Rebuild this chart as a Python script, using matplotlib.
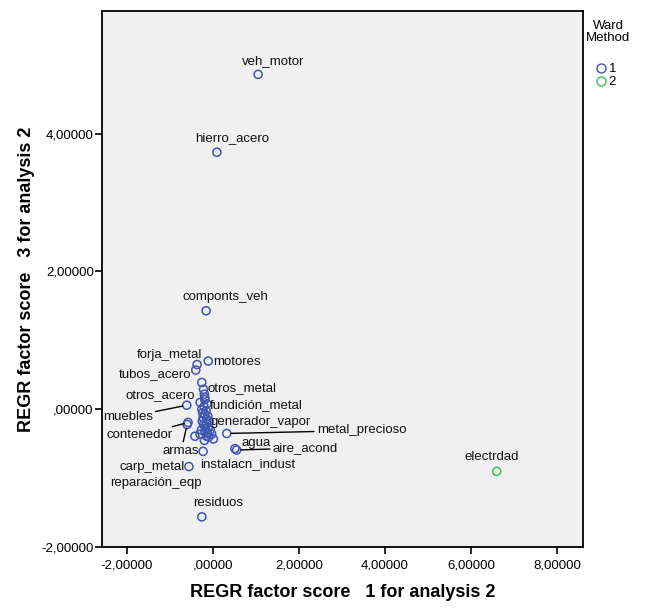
import numpy as np
import matplotlib.pyplot as plt
from matplotlib.ticker import FuncFormatter, FixedLocator
from matplotlib.lines import Line2D

plt.rcParams['font.family'] = ['Liberation Sans', 'DejaVu Sans']

### Factor scores per sector ###

sectors = ['veh_motor', 'hierro_acero', 'componts_veh', 'electrdad', 'residuos',
           'forja_metal', 'motores', 'tubos_acero', 'otros_metal', 'fundición_metal',
           'otros_acero', 'muebles', 'contenedor', 'armas', 'instalacn_indust',
           'carp_metal', 'reparación_eqp', 'generador_vapor', 'metal_precioso',
           'agua', 'aire_acond']
score1 = [1.05, 0.09, -0.16, 6.60, -0.26,
          -0.37, -0.11, -0.40, -0.26, -0.19,
          -0.30, -0.61, -0.58, -0.60, -0.23,
          -0.56, -0.20, -0.15, 0.32,
          0.51, 0.55]
score3 = [4.86, 3.73, 1.43, -0.90, -1.56,
          0.65, 0.70, 0.57, 0.39, 0.14,
          0.10, 0.06, -0.19, -0.22, -0.61,
          -0.83, -0.45, -0.20, -0.35,
          -0.57, -0.59]
ward = [1, 1, 1, 2, 1,
        1, 1, 1, 1, 1,
        1, 1, 1, 1, 1,
        1, 1, 1, 1,
        1, 1]

# unlabelled sectors packed in the middle of cluster 1
extra1 = [-0.22, -0.19, -0.26, -0.19, -0.15, -0.22, -0.11, -0.19, -0.42, -0.30,
          0.01, -0.03, -0.15, -0.24, -0.17, -0.12, -0.20, -0.14, -0.23, -0.09,
          -0.18, -0.27, -0.13, -0.21, -0.16, -0.06, -0.25, -0.10]
extra3 = [0.29, 0.17, 0.00, -0.07, -0.14, -0.22, -0.26, -0.32, -0.39, -0.36,
          -0.43, -0.36, -0.39, -0.05, -0.28, -0.10, 0.22, 0.08, -0.12, -0.18,
          -0.24, -0.30, -0.34, 0.04, -0.02, -0.30, -0.17, -0.40]

# label placement: (dx, dy) in pixels, alignment, leader line
label_pos = {
    'veh_motor': (15, 13, 'center', False),
    'hierro_acero': (15, 14, 'center', False),
    'componts_veh': (19, 14, 'center', False),
    'electrdad': (-5, 14, 'center', False),
    'residuos': (16, 14, 'center', False),
    'forja_metal': (5, 10, 'right', False),
    'motores': (5, -1, 'left', False),
    'tubos_acero': (-4, -4, 'right', False),
    'otros_metal': (6, -6, 'left', False),
    'fundición_metal': (5, -5, 'left', False),
    'otros_acero': (-5, 6, 'right', False),
    'muebles': (-34, -12, 'right', True),
    'contenedor': (-15, -13, 'right', True),
    'armas': (-6, -26, 'center', True),
    'instalacn_indust': (-3, -13, 'left', False),
    'carp_metal': (-4, 0, 'right', False),
    'reparación_eqp': (-49, -43, 'center', False),
    'generador_vapor': (4, 1, 'left', False),
    'metal_precioso': (90, 3, 'left', True),
    'agua': (7, 6, 'left', False),
    'aire_acond': (36, 2, 'left', True),
}

colors = {1: '#3f56b0', 2: '#3dbf5a'}

fig = plt.figure(figsize=(6.46, 6.08), dpi=100)
ax = fig.add_axes([0.158, 0.100, 0.744, 0.882])
ax.set_facecolor('#f0f0f0')

s1 = np.array(score1)
s3 = np.array(score3)
w = np.array(ward)

ax.scatter(extra1, extra3, s=34, facecolors='none', edgecolors=colors[1], linewidths=1.1, zorder=3)
for k in (1, 2):
    m = w == k
    ax.scatter(s1[m], s3[m], s=34, facecolors='none', edgecolors=colors[k],
               linewidths=1.1, zorder=3)

for name, xv, yv in zip(sectors, score1, score3):
    dx, dy, ha, lead = label_pos[name]
    kw = {}
    if lead:
        kw['arrowprops'] = dict(arrowstyle='-', color='black', lw=1.0,
                                shrinkA=0, shrinkB=3)
    ax.annotate(name, (xv, yv), xytext=(dx, dy), textcoords='offset pixels',
                ha=ha, va='center', fontsize=9.5, color='#111111', zorder=4, **kw)

def comma_fmt(v, pos):
    s = f'{v:.5f}'.replace('.', ',')
    if s.startswith('0,'):
        s = s[1:]
    return s

ax.set_xlim(-2.58, 8.6)
ax.set_ylim(-2.0, 5.78)
ax.xaxis.set_major_locator(FixedLocator([-2, 0, 2, 4, 6, 8]))
ax.yaxis.set_major_locator(FixedLocator([-2, 0, 2, 4]))
ax.xaxis.set_major_formatter(FuncFormatter(comma_fmt))
ax.yaxis.set_major_formatter(FuncFormatter(comma_fmt))
ax.tick_params(direction='out', length=5, width=1.2, labelsize=9.5, colors='black')
ax.tick_params(axis='x', pad=4)
ax.tick_params(axis='y', pad=1)
for sp in ax.spines.values():
    sp.set_linewidth(1.3)

ax.set_xlabel('REGR factor score   1 for analysis 2', fontsize=13, fontweight='bold')
ax.set_ylabel('REGR factor score   3 for analysis 2', fontsize=13, fontweight='bold')
ax.xaxis.set_label_coords(0.5, -0.069)
ax.yaxis.set_label_coords(-0.14, 0.5)

# legend for the Ward clusters
fig.text(608 / 646, 1 - 32 / 608, 'Ward\nMethod', ha='center', va='center',
         fontsize=9.5, linespacing=0.95)
handles = [Line2D([], [], ls='none', marker='o', ms=6.5, mfc='none',
                  mec=colors[k], mew=1.0) for k in (1, 2)]
fig.legend(handles, ['1', '2'], loc='upper left', bbox_to_anchor=(594 / 646, 1 - 63 / 608),
           frameon=False, fontsize=9.5, handletextpad=0.1, borderpad=0.0,
           labelspacing=0.05, handlelength=1.0, borderaxespad=0)

fig.savefig('out.png', dpi=100)
